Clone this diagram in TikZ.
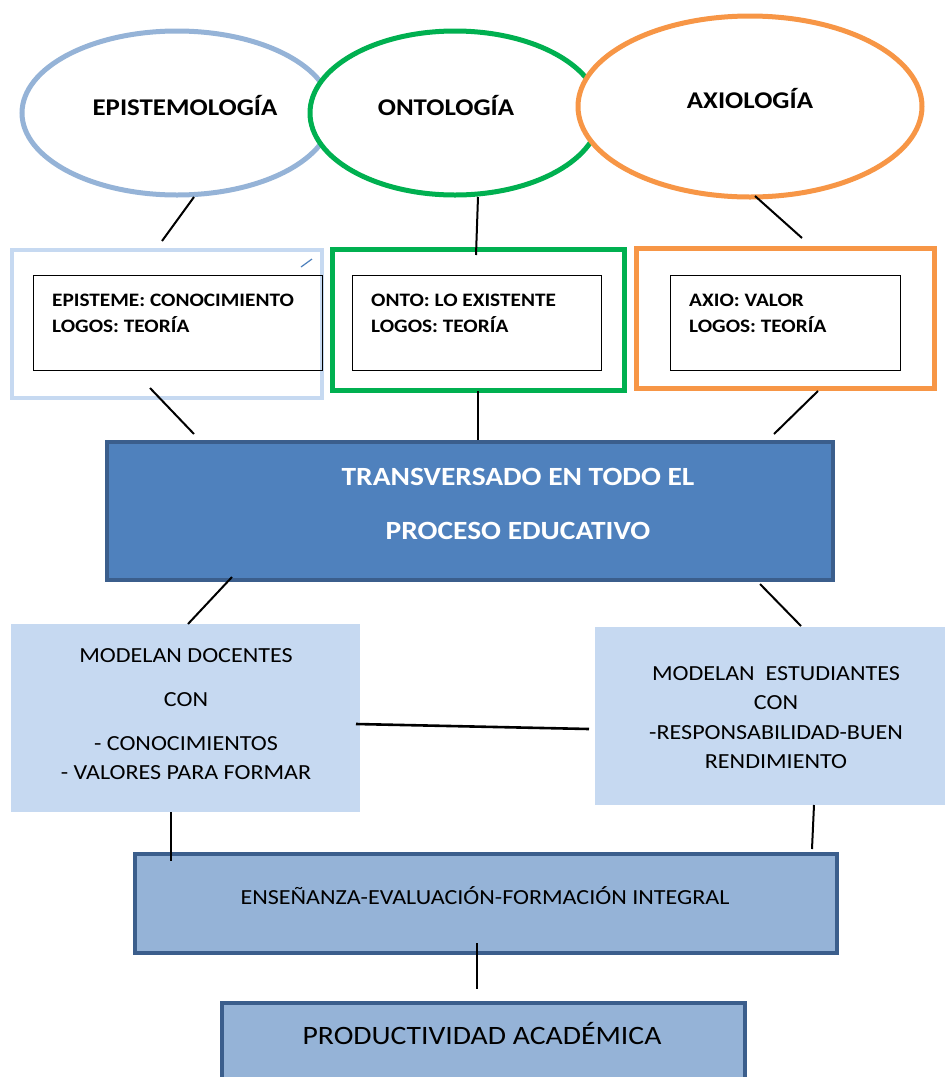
\documentclass[tikz,border=0pt]{standalone}
\usepackage{fontspec}
\setmainfont[FakeStretch=1.12]{Carlito}
\usetikzlibrary{shapes.geometric}
\definecolor{epiblue}{HTML}{95B3D7}
\definecolor{ontogreen}{HTML}{00B050}
\definecolor{axioorange}{HTML}{F79646}
\definecolor{lightblue}{HTML}{C6D9F1}
\definecolor{midblue}{HTML}{4F81BD}
\definecolor{darkblue}{HTML}{3B5E8C}
\begin{document}
\begin{tikzpicture}[x=1pt,y=-1pt,
  ell/.style={ellipse, line width=5pt, fill=white, inner sep=0pt},
  ellabel/.style={anchor=base, font=\bfseries\fontsize{24}{29}\selectfont},
  outerbox/.style={rectangle, inner sep=0pt, fill=white},
  innerbox/.style={rectangle, draw=black, line width=1pt, inner sep=0pt},
  innertext/.style={anchor=base west, inner sep=0pt, font=\bfseries\fontsize{19}{23}\selectfont},
  bigbox/.style={rectangle, inner sep=0pt, fill=midblue, draw=darkblue, line width=4.5pt},
  bigtext/.style={anchor=base, text=white, font=\bfseries\fontsize{26.3}{32}\selectfont},
  softbox/.style={rectangle, inner sep=0pt, fill=lightblue},
  softtext/.style={anchor=base, font=\fontsize{21.5}{26}\selectfont},
  resbox/.style={rectangle, inner sep=0pt, fill=epiblue, draw=darkblue, line width=4pt},
  link/.style={draw=black, line width=2pt}
]
\useasboundingbox (0,0) rectangle (945,1077);

% ellipses
\node[ell, draw=epiblue, minimum width=310pt, minimum height=164pt] (e1) at (177,113) {};
\node[ell, draw=ontogreen, minimum width=290pt, minimum height=164pt] (e2) at (455,113) {};
\node[ell, draw=axioorange, minimum width=344pt, minimum height=181pt] (e3) at (750,106.5) {};
\node[ellabel] (l1) at (185,115) {EPISTEMOLOGÍA};
\node[ellabel] (l2) at (446,115) {ONTOLOGÍA};
\node[ellabel] (l3) at (750,108) {AXIOLOGÍA};

% outer boxes
\node[outerbox, draw=lightblue, line width=4pt, minimum width=310pt, minimum height=148pt] (b1) at (167,324) {};
\node[outerbox, draw=ontogreen, line width=5pt, minimum width=292pt, minimum height=141pt] (b2) at (478,319.5) {};
\node[outerbox, draw=axioorange, line width=5pt, minimum width=298pt, minimum height=140pt] (b3) at (785,318) {};
\draw[midblue, line width=1.2pt] (301,267) coordinate (m1) -- (312,259) coordinate (m2);

% inner boxes
\node[innerbox, minimum width=289pt, minimum height=95pt] (i1) at (177.5,322.5) {};
\node[innerbox, minimum width=249pt, minimum height=95pt] (i2) at (476.5,322.5) {};
\node[innerbox, minimum width=230pt, minimum height=95pt] (i3) at (785,322.5) {};
\node[innertext] (t1a) at (52,306) {EPISTEME: CONOCIMIENTO};
\node[innertext] (t1b) at (52,332) {LOGOS: TEORÍA};
\node[innertext] (t2a) at (371,306) {ONTO: LO EXISTENTE};
\node[innertext] (t2b) at (371,332) {LOGOS: TEORÍA};
\node[innertext] (t3a) at (689,306) {AXIO: VALOR};
\node[innertext] (t3b) at (689,332) {LOGOS: TEORÍA};

% big box
\node[bigbox, minimum width=726pt, minimum height=138pt] (big) at (470,511) {};
\node[bigtext] (bt1) at (518,485) {TRANSVERSADO EN TODO EL};
\node[bigtext] (bt2) at (518,539) {PROCESO EDUCATIVO};

% soft boxes
\node[softbox, minimum width=349pt, minimum height=188pt] (s1) at (185.5,718) {};
\node[softbox, minimum width=352pt, minimum height=178pt] (s2) at (771,716) {};
\node[softtext] (s1a) at (186,662) {MODELAN DOCENTES};
\node[softtext] (s1b) at (186,706) {CON};
\node[softtext] (s1c) at (186,750) {- CONOCIMIENTOS};
\node[softtext] (s1d) at (186,779) {- VALORES PARA FORMAR};
\node[softtext] (s2a) at (776,680) {MODELAN\ \ ESTUDIANTES};
\node[softtext] (s2b) at (776,709) {CON};
\node[softtext] (s2c) at (776,739) {-RESPONSABILIDAD-BUEN};
\node[softtext] (s2d) at (776,768) {RENDIMIENTO};

% result boxes
\node[resbox, minimum width=702pt, minimum height=99pt] (r1) at (485.5,903) {};
\node[softtext, font=\fontsize{21.5}{26}\selectfont] (r1t) at (485,904) {ENSEÑANZA-EVALUACIÓN-FORMACIÓN INTEGRAL};
\node[resbox, minimum width=523pt, minimum height=140pt] (r2) at (483,1073) {};
\node[softtext, font=\fontsize{26.5}{32}\selectfont] (r2t) at (482,1044) {PRODUCTIVIDAD ACADÉMICA};

% connector end points
\coordinate (c1a) at (194,197); \coordinate (c1b) at (162,241);
\coordinate (c2a) at (478,197); \coordinate (c2b) at (476,255);
\coordinate (c3a) at (755,196); \coordinate (c3b) at (802,238);
\coordinate (d1a) at (150,388); \coordinate (d1b) at (194,434);
\coordinate (d2a) at (478,391); \coordinate (d2b) at (478,440);
\coordinate (d3a) at (818,391); \coordinate (d3b) at (774,434);
\coordinate (f1a) at (232,577); \coordinate (f1b) at (188,624);
\coordinate (f2a) at (760,584); \coordinate (f2b) at (801,626);
\coordinate (g1a) at (356,724); \coordinate (g1b) at (589,729);
\coordinate (h1a) at (171,812); \coordinate (h1b) at (171,861);
\coordinate (h2a) at (814,805); \coordinate (h2b) at (812,849);
\coordinate (k1a) at (477,943); \coordinate (k1b) at (477,989);

\draw[link] (c1a) -- (c1b);
\draw[link] (c2a) -- (c2b);
\draw[link] (c3a) -- (c3b);
\draw[link] (d1a) -- (d1b);
\draw[link] (d2a) -- (d2b);
\draw[link] (d3a) -- (d3b);
\draw[link] (f1a) -- (f1b);
\draw[link] (f2a) -- (f2b);
\draw[link, line width=2.6pt] (g1a) -- (g1b);
\draw[link] (h1a) -- (h1b);
\draw[link] (h2a) -- (h2b);
\draw[link] (k1a) -- (k1b);
\end{tikzpicture}
\end{document}
